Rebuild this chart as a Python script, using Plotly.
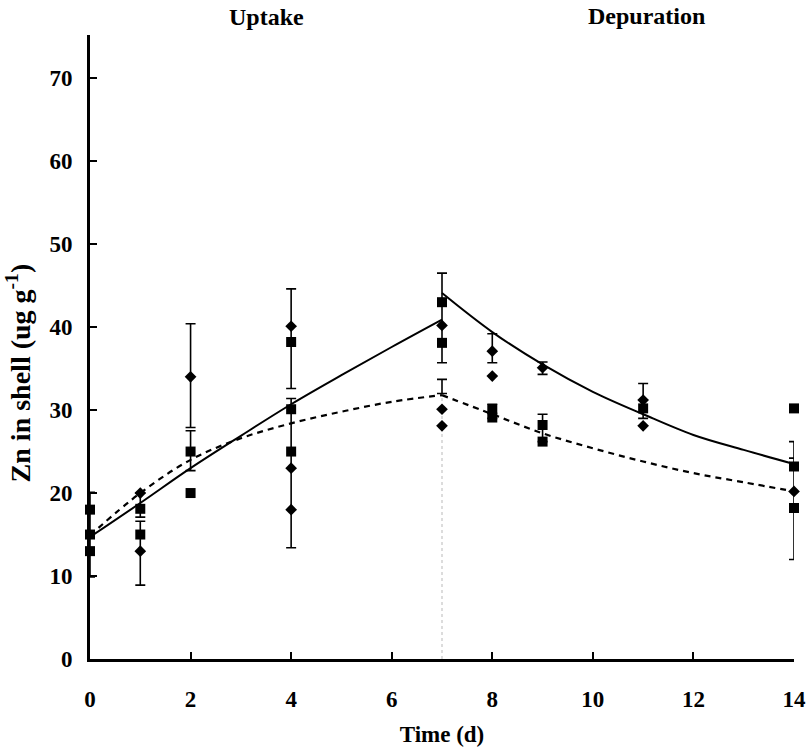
import plotly.graph_objects as go

# ---- data ----
sq_x = [0, 0, 0, 1, 1, 2, 2, 4, 4, 4, 7, 7, 8, 8, 9, 9, 11, 14, 14, 14]
sq_y = [18, 15, 13, 18.1, 15, 25, 20, 38.2, 30.1, 25, 43, 38.1, 30.1, 29.1, 28.2, 26.2, 30.2, 30.2, 23.2, 18.2]

di_x = [1, 1, 2, 4, 4, 4, 7, 7, 7, 8, 8, 9, 11, 11, 14]
di_y = [20, 13, 34, 40.1, 23, 18, 40.2, 30.1, 28.1, 37.1, 34.1, 35.1, 31.2, 28.1, 20.2]

# error bar segments (x, low, high)
err_x = [0, 1, 1, 2, 2, 4, 4, 7, 7, 8, 8, 9, 9, 11, 14, 14]
err_lo = [9.9, 8.9, 17.1, 22.7, 27.9, 13.4, 32.6, 32.0, 35.7, 35.7, 29.0, 34.3, 26.2, 29.0, 12.0, 24.2]
err_hi = [20.1, 16.6, 20.0, 27.5, 40.4, 31.4, 44.6, 33.7, 46.5, 39.2, 30.7, 35.8, 29.5, 33.2, 24.2, 26.2]

# fitted curves (read at integer days)
up_x = [0, 1, 2, 3, 4, 5, 6, 7]
up_solid = [14.7, 18.8, 23.0, 26.9, 30.7, 34.2, 37.6, 40.9]
up_dash = [14.9, 20.0, 24.0, 26.6, 28.4, 29.8, 31.0, 31.8]

dep_x = [7, 8, 9, 10, 11, 12, 13, 14]
dep_solid = [44.1, 39.4, 35.5, 32.2, 29.5, 27.0, 25.2, 23.5]
dep_dash = [31.8, 29.5, 27.2, 25.4, 23.8, 22.4, 21.3, 20.2]

sep_x = [7, 7]
sep_y = [0, 31.8]

x_ticks = [0, 2, 4, 6, 8, 10, 12, 14]
y_ticks = [0, 10, 20, 30, 40, 50, 60, 70]

FONT = "Liberation Serif"

fig = go.Figure()

# separator
fig.add_trace(go.Scatter(x=sep_x, y=sep_y, mode="lines",
                         line=dict(color="rgb(185,185,185)", width=1, dash="dot"),
                         hoverinfo="skip", showlegend=False))

# curves
fig.add_trace(go.Scatter(x=up_x, y=up_solid, mode="lines", line=dict(color="black", width=2, shape="spline"),
                         showlegend=False))
fig.add_trace(go.Scatter(x=dep_x, y=dep_solid, mode="lines", line=dict(color="black", width=2, shape="spline"),
                         showlegend=False))
fig.add_trace(go.Scatter(x=up_x, y=up_dash, mode="lines",
                         line=dict(color="black", width=2.2, dash="6px,5px", shape="spline"), showlegend=False))
fig.add_trace(go.Scatter(x=dep_x, y=dep_dash, mode="lines",
                         line=dict(color="black", width=2.2, dash="6px,5px", shape="spline"), showlegend=False))

# error bars
err_c = [(a + b) / 2 for a, b in zip(err_lo, err_hi)]
fig.add_trace(go.Scatter(
    x=err_x, y=err_c, mode="markers",
    marker=dict(size=1, color="rgba(0,0,0,0)"),
    error_y=dict(type="data", symmetric=False,
                 array=[h - c for h, c in zip(err_hi, err_c)],
                 arrayminus=[c - l for l, c in zip(err_lo, err_c)],
                 color="black", thickness=1.6, width=5),
    cliponaxis=False, showlegend=False, hoverinfo="skip"))

# markers
fig.add_trace(go.Scatter(x=sq_x, y=sq_y, mode="markers",
                         marker=dict(symbol="square", size=10, color="black"),
                         cliponaxis=False, showlegend=False))
fig.add_trace(go.Scatter(x=di_x, y=di_y, mode="markers",
                         marker=dict(symbol="diamond", size=9, color="black"),
                         cliponaxis=False, showlegend=False))

fig.update_layout(
    width=809, height=747,
    margin=dict(l=90, r=15, t=35, b=88, autoexpand=False),
    paper_bgcolor="white", plot_bgcolor="white",
    font=dict(family=FONT, color="black"),
    showlegend=False,
    annotations=[
        dict(text="<b>Uptake</b>", x=3.5, xref="x", y=1.029, yref="paper",
             xanchor="center", yanchor="middle",
             showarrow=False, font=dict(family=FONT, size=24, color="black")),
        dict(text="<b>Depuration</b>", x=11.06, xref="x", y=1.031, yref="paper",
             xanchor="center", yanchor="middle",
             showarrow=False, font=dict(family=FONT, size=24, color="black")),
        dict(text="<b>Zn in shell (ug g<sup>-1</sup>)</b>", textangle=-90,
             x=-0.102, xref="paper", y=0.458, yref="paper",
             xanchor="center", yanchor="middle",
             showarrow=False, font=dict(family=FONT, size=28, color="black")),
    ],
)

fig.update_xaxes(
    range=[0, 14], tickvals=x_ticks, ticktext=[str(v) for v in x_ticks],
    showgrid=False, zeroline=False, automargin=False,
    showline=True, linecolor="black", linewidth=3,
    ticks="inside", ticklen=7, tickwidth=2, tickcolor="black",
    ticklabelstandoff=17,
    tickfont=dict(family=FONT, size=23, color="black", weight="bold"),
    title=dict(text="<b>Time (d)</b>", font=dict(family=FONT, size=23, color="black"), standoff=19),
)
fig.update_yaxes(
    range=[0, 75.2], tickvals=y_ticks, ticktext=[str(v) for v in y_ticks],
    showgrid=False, zeroline=False, automargin=False,
    showline=True, linecolor="black", linewidth=3,
    ticks="inside", ticklen=7, tickwidth=2, tickcolor="black",
    ticklabelstandoff=10,
    tickfont=dict(family=FONT, size=23, color="black", weight="bold"),
)

fig.write_html("out.html")
